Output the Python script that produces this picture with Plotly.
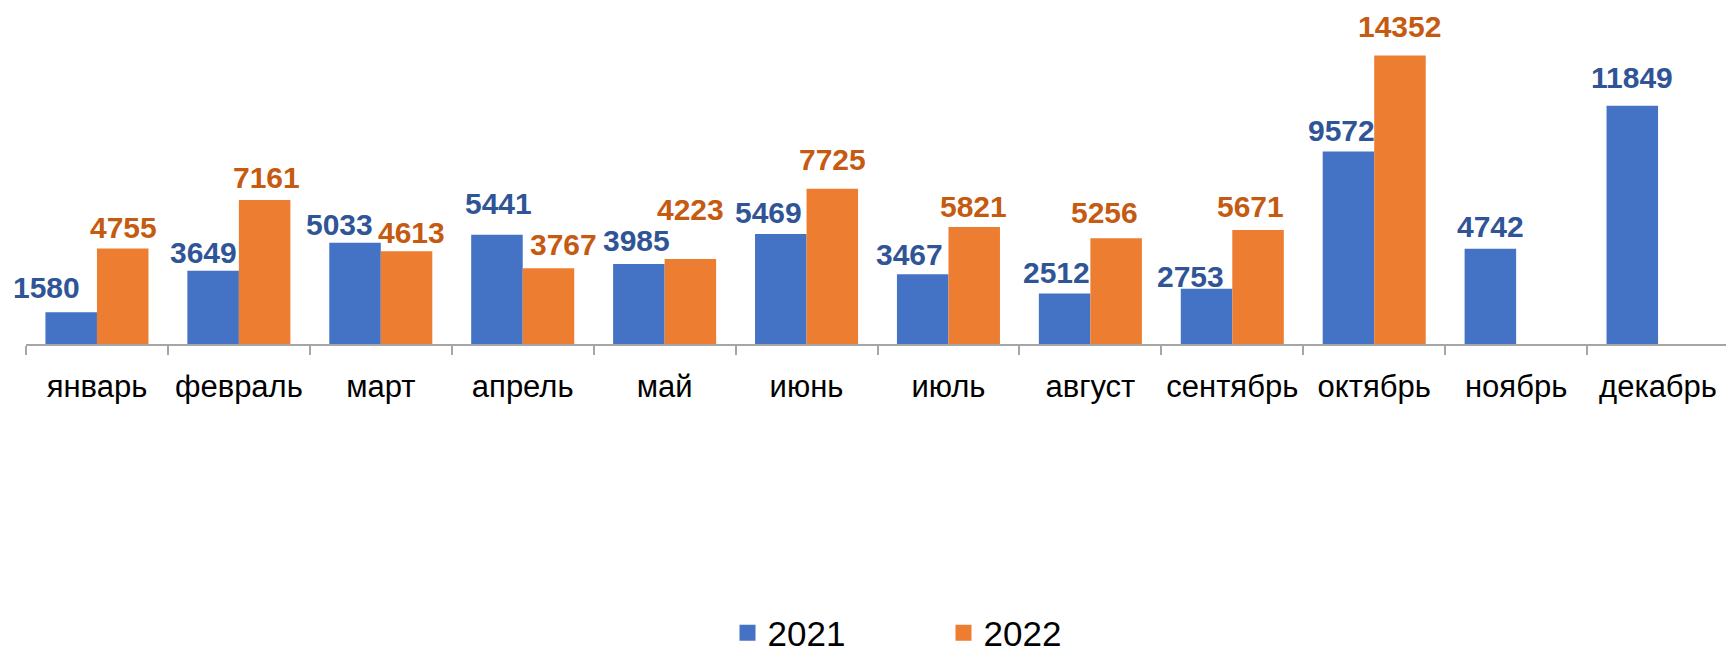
import plotly.graph_objects as go

months = ["январь", "февраль", "март", "апрель", "май", "июнь", "июль",
          "август", "сентябрь", "октябрь", "ноябрь", "декабрь"]
values_2021 = [1580, 3649, 5033, 5441, 3985, 5469, 3467, 2512, 2753, 9572, 4742, 11849]
values_2022 = [4755, 7161, 4613, 3767, 4223, 7725, 5821, 5256, 5671, 14352, None, None]
series_names = ["2021", "2022"]

# label nudges (pixels) mimicking the hand-placed labels of the original
label_dx_2021 = [-25, -10, -16, 2, -2, -12, -13, -8, -16, -7, 0, 0]
label_gap_2021 = [14, 8, 8, 21, 13, 11, 9, 11, 2, 11, 12, 18]
label_dx_2022 = [1, 2, 5, 15, 0, 0, -1, -12, -8, 0, 0, 0]
label_gap_2022 = [10, 12, 8, 13, 39, 19, 10, 15, 13, 19, 0, 0]

BLUE = "#4472C4"
ORANGE = "#ED7D31"
BLUE_TXT = "#2F5597"
ORANGE_TXT = "#C55A11"
FONT = "Liberation Sans, Arial, sans-serif"

W, H = 1726, 648
ML, MR, MT, MB = 26, 0, 20, 304
plot_h = H - MT - MB
px_per_unit = 0.0201
y_max = plot_h / px_per_unit
cat_px = 141.9
x_right = 11.5 - 3 / cat_px

fig = go.Figure()
fig.add_trace(go.Bar(name=series_names[0], x=months, y=values_2021, showlegend=False,
                     marker=dict(color=BLUE, line=dict(width=0))))
fig.add_trace(go.Bar(name=series_names[1], x=months, y=values_2022, showlegend=False,
                     marker=dict(color=ORANGE, line=dict(width=0))))
# legend entries with larger square keys
for name, col in zip(series_names, [BLUE, ORANGE]):
    fig.add_trace(go.Scatter(name=name, x=[None], y=[None], mode="markers",
                             marker=dict(symbol="square", size=19, color=col),
                             showlegend=True, hoverinfo="skip"))

bargap = 0.274
half = (1 - bargap) / 4  # half of one bar width in category units
digit_offset = 8  # distance from text box bottom to digit baseline
LABEL_SIZE = 30

for i, v in enumerate(values_2021):
    if v is None:
        continue
    fig.add_annotation(x=i - half, y=v, text=f"<b>{v}</b>", showarrow=False,
                       xref="x", yref="y", yanchor="bottom", xanchor="center",
                       xshift=label_dx_2021[i], yshift=label_gap_2021[i] - digit_offset,
                       font=dict(family=FONT, size=LABEL_SIZE, color=BLUE_TXT))
for i, v in enumerate(values_2022):
    if v is None:
        continue
    fig.add_annotation(x=i + half, y=v, text=f"<b>{v}</b>", showarrow=False,
                       xref="x", yref="y", yanchor="bottom", xanchor="center",
                       xshift=label_dx_2022[i], yshift=label_gap_2022[i] - digit_offset,
                       font=dict(family=FONT, size=LABEL_SIZE, color=ORANGE_TXT))

fig.update_layout(
    width=W, height=H,
    margin=dict(l=ML, r=MR, t=MT, b=MB, pad=0, autoexpand=False),
    paper_bgcolor="white", plot_bgcolor="white",
    barmode="group", bargap=bargap, bargroupgap=0,
    font=dict(family=FONT, color="#000000"),
    showlegend=True,
    legend=dict(orientation="h", xref="container", yref="container",
                x=(747.5 - 20) / W, xanchor="left", y=1 - 633 / H, yanchor="middle",
                font=dict(family=FONT, size=35, color="#000000"),
                entrywidth=171, entrywidthmode="pixels", traceorder="normal",
                itemsizing="trace", bgcolor="rgba(0,0,0,0)"),
)
fig.update_xaxes(type="category", range=[-0.5, x_right], showline=True, automargin=False,
                 linecolor="#A6A6A6", linewidth=1.5, ticks="outside", tickson="boundaries",
                 ticklen=9, tickcolor="#A6A6A6", tickwidth=1.5, showgrid=False,
                 ticklabelstandoff=14,
                 tickfont=dict(family=FONT, size=31, color="#000000"), zeroline=False,
                 fixedrange=True)
fig.update_yaxes(range=[0, y_max], visible=False, showgrid=False, zeroline=False,
                 automargin=False, fixedrange=True)

fig.write_html("out.html", config={"displayModeBar": False},
               post_script="document.body.style.margin='0';document.body.style.overflow='hidden';")
